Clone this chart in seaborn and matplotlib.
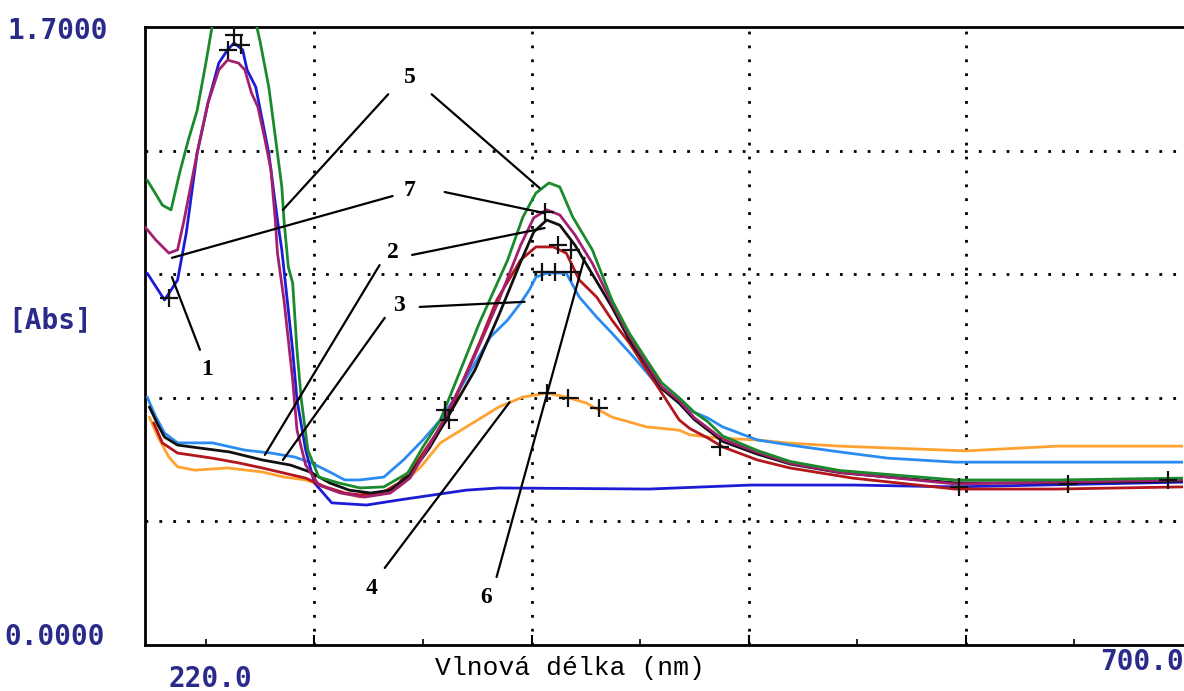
import numpy as np
import pandas as pd
import matplotlib
matplotlib.use("Agg")
import matplotlib.pyplot as plt
import seaborn as sns

# ---------------- data ----------------
wl1 = [223, 231, 237, 241, 246, 251, 256, 260, 263, 267, 269, 273, 276, 279, 281, 283, 285, 290, 292, 296, 300, 308, 324, 339, 370, 385, 454, 501, 548, 595, 700]
ab1 = [1.023, 0.949, 1.004, 1.133, 1.353, 1.491, 1.601, 1.637, 1.656, 1.637, 1.582, 1.535, 1.444, 1.353, 1.26, 1.169, 1.087, 0.81, 0.674, 0.536, 0.446, 0.391, 0.385, 0.399, 0.426, 0.432, 0.429, 0.44, 0.44, 0.435, 0.448]

wl2 = [224, 228, 231, 237, 247, 261, 276, 289, 298, 307, 316, 326, 335, 344, 353, 362, 374, 385, 395, 401, 407, 413, 420, 428, 437, 445, 453, 460, 468, 475, 488, 504, 519, 542, 595, 642, 700]
ab2 = [0.655, 0.605, 0.572, 0.55, 0.542, 0.531, 0.509, 0.495, 0.476, 0.446, 0.426, 0.418, 0.426, 0.468, 0.542, 0.633, 0.757, 0.908, 1.054, 1.136, 1.169, 1.155, 1.10, 1.02, 0.93, 0.84, 0.77, 0.705, 0.665, 0.62, 0.56, 0.525, 0.498, 0.474, 0.446, 0.446, 0.451]

wl3 = [223, 227, 231, 237, 253, 268, 280, 291, 299, 308, 314, 321, 332, 341, 350, 358, 364, 373, 381, 389, 395, 399, 402, 407, 416, 422, 430, 437, 447, 456, 468, 473, 481, 488, 504, 519, 542, 564, 595, 658, 700]
ab3 = [0.682, 0.627, 0.583, 0.556, 0.556, 0.536, 0.528, 0.517, 0.50, 0.473, 0.454, 0.454, 0.462, 0.509, 0.564, 0.619, 0.674, 0.765, 0.847, 0.894, 0.941, 0.977, 1.012, 1.023, 1.023, 0.957, 0.902, 0.858, 0.792, 0.729, 0.67, 0.645, 0.625, 0.60, 0.564, 0.55, 0.531, 0.514, 0.503, 0.503, 0.503]

wl4 = [224, 228, 233, 237, 245, 260, 276, 286, 296, 309, 321, 332, 339, 349, 358, 370, 385, 396, 407, 416, 425, 437, 453, 468, 473, 486, 504, 517, 542, 600, 642, 700]
ab4 = [0.627, 0.572, 0.517, 0.49, 0.481, 0.487, 0.476, 0.462, 0.454, 0.426, 0.407, 0.418, 0.435, 0.49, 0.556, 0.60, 0.655, 0.682, 0.693, 0.682, 0.666, 0.627, 0.60, 0.591, 0.578, 0.569, 0.564, 0.556, 0.547, 0.534, 0.547, 0.547]

wl5 = [223, 227, 230, 234, 238, 242, 246, 250, 254, 258, 263, 268, 272, 275, 279, 281, 283, 285, 286, 288, 290, 292, 294, 297, 302, 311, 321, 332, 343, 350, 358, 366, 376, 389, 396, 402, 408, 413, 419, 428, 437, 445, 453, 460, 468, 475, 481, 488, 504, 519, 542, 595, 642, 700]
ab5 = [1.279, 1.24, 1.21, 1.197, 1.30, 1.39, 1.47, 1.60, 1.74, 1.80, 1.82, 1.80, 1.74, 1.66, 1.535, 1.444, 1.353, 1.26, 1.169, 1.04, 0.996, 0.81, 0.674, 0.536, 0.462, 0.446, 0.432, 0.435, 0.473, 0.545, 0.619, 0.737, 0.886, 1.059, 1.177, 1.243, 1.271, 1.26, 1.177, 1.087, 0.949, 0.858, 0.784, 0.721, 0.68, 0.64, 0.615, 0.575, 0.535, 0.505, 0.48, 0.454, 0.454, 0.459]

wl6 = [226, 230, 237, 253, 265, 276, 286, 296, 305, 314, 321, 332, 339, 347, 355, 361, 368, 376, 384, 395, 402, 410, 416, 422, 430, 437, 445, 453, 460, 468, 473, 481, 488, 504, 519, 548, 595, 642, 700]
ab6 = [0.611, 0.556, 0.528, 0.514, 0.501, 0.487, 0.473, 0.459, 0.435, 0.418, 0.413, 0.421, 0.446, 0.501, 0.572, 0.619, 0.721, 0.831, 0.949, 1.059, 1.095, 1.095, 1.078, 1.004, 0.957, 0.894, 0.831, 0.757, 0.693, 0.619, 0.595, 0.57, 0.545, 0.509, 0.487, 0.459, 0.429, 0.429, 0.435]

wl7 = [222, 227, 233, 237, 240, 246, 251, 256, 260, 265, 268, 271, 274, 277, 280, 282, 283, 286, 290, 292, 296, 302, 312, 323, 335, 344, 353, 360, 372, 385, 395, 401, 407, 413, 420, 428, 437, 445, 453, 460, 468, 475, 488, 504, 519, 542, 595, 642, 700]
ab7 = [1.15, 1.114, 1.078, 1.087, 1.169, 1.353, 1.491, 1.582, 1.609, 1.601, 1.582, 1.519, 1.48, 1.397, 1.307, 1.169, 1.078, 0.949, 0.729, 0.591, 0.495, 0.44, 0.418, 0.407, 0.418, 0.459, 0.55, 0.624, 0.77, 0.949, 1.10, 1.175, 1.197, 1.183, 1.128, 1.05, 0.94, 0.85, 0.775, 0.71, 0.672, 0.625, 0.566, 0.53, 0.50, 0.475, 0.443, 0.448, 0.454]

# cursor '+' marks seen on the traces
mark_wl = [260, 263, 266, 233, 360, 362, 406, 412, 418, 405, 411, 418, 407, 417, 431, 487, 597, 647, 693]
mark_ab = [1.637, 1.678, 1.65, 0.955, 0.646, 0.619, 1.191, 1.10, 1.087, 1.026, 1.026, 1.026, 0.693, 0.68, 0.652, 0.545, 0.435, 0.443, 0.454]

curve_ids = ["1", "2", "3", "4", "5", "6", "7"]
curve_colors = ["#1c1cd6", "#111111", "#2a8cf0", "#ffa232", "#1b8a2c", "#b3161b", "#a3206e"]

# label number, text position, leader segments (annotation geometry)
labels = [
    ("5", (344, 1.56), [(354, 1.515, 403.7, 1.257), (334, 1.515, 285.5, 1.197)]),
    ("7", (344, 1.25), [(336, 1.235, 234.4, 1.065), (360, 1.246, 406, 1.188)]),
    ("2", (336, 1.08), [(345, 1.073, 406, 1.147), (330, 1.045, 277.2, 0.523)]),
    ("3", (339, 0.935), [(348.5, 0.93, 396.8, 0.944), (332.4, 0.90, 285.5, 0.509)]),
    ("1", (250.5, 0.757), [(247.3, 0.812, 234.4, 1.012)]),
    ("4", (326.4, 0.155), [(332.4, 0.212, 389.9, 0.668)]),
    ("6", (379.3, 0.13), [(383.9, 0.187, 424.4, 1.065)]),
]

# ---------------- plotting ----------------
sns.set_theme(style="white")
plt.rcParams["font.family"] = ["DejaVu Sans"]

W, H = 1184, 691
fig = plt.figure(figsize=(W / 100, H / 100), dpi=100)
fig.patch.set_facecolor("white")
ax = fig.add_axes([145 / W, 46 / H, 1038 / W, 618 / H])
ax.set_facecolor("white")

wls = [wl1, wl2, wl3, wl4, wl5, wl6, wl7]
abs_ = [ab1, ab2, ab3, ab4, ab5, ab6, ab7]
frames = []
for cid, w, a in zip(curve_ids, wls, abs_):
    frames.append(pd.DataFrame({"wl": w, "A": a, "curve": cid}))
df = pd.concat(frames, ignore_index=True)

order = ["4", "3", "1", "6", "2", "7", "5"]
for cid in order:
    i = curve_ids.index(cid)
    sub = df[df.curve == cid]
    sns.lineplot(data=sub, x="wl", y="A", ax=ax, color=curve_colors[i],
                 lw=2.0, estimator=None, sort=False, legend=False, zorder=3)

ax.scatter(mark_wl, mark_ab, marker="+", s=160, color="#111111", lw=1.6, zorder=5)

ax.set_xlim(222, 700)
ax.set_ylim(0, 1.7)
ax.set_xticks([300, 400, 500, 600])
ax.set_xticks([250, 350, 450, 550, 650], minor=True)
ax.set_yticks([0.34, 0.68, 1.02, 1.36])
ax.set_xticklabels([])
ax.set_yticklabels([])
ax.tick_params(axis="x", which="major", direction="in", length=7, width=1.5, color="black", bottom=True)
ax.tick_params(axis="x", which="minor", direction="in", length=4, width=1.2, color="black", bottom=True)
ax.tick_params(axis="y", length=0)
ax.set_xlabel("")
ax.set_ylabel("")
ax.grid(True, which="major", color="black", linestyle=(0, (1, 4)), lw=2.0)
for side in ["left", "bottom", "top"]:
    ax.spines[side].set_visible(True)
    ax.spines[side].set_color("black")
    ax.spines[side].set_linewidth(2.0)
ax.spines["right"].set_visible(False)

# annotations
for num, (tx, ty), segs in labels:
    ax.text(tx, ty, num, fontsize=17, fontweight="bold", family=["Liberation Serif", "DejaVu Serif"],
            ha="center", va="center", color="black", zorder=6)
    for (x0, y0, x1, y1) in segs:
        ax.plot([x0, x1], [y0, y1], color="black", lw=1.6, zorder=6, clip_on=False)

# axis texts
navy = "#2a2a8a"
mono = ["DejaVu Sans Mono"]
def ftxt(x, y, s, **kw):
    fig.text(x / W, 1 - y / H, s, **kw)

ftxt(8, 31, "1.7000", fontsize=20, fontweight="bold", family=mono, color=navy, va="center", ha="left")
ftxt(8, 320, "[Abs]", fontsize=20, fontweight="bold", family=mono, color=navy, va="center", ha="left")
ftxt(4, 637, "0.0000", fontsize=20, fontweight="bold", family=mono, color=navy, va="center", ha="left")
ftxt(210, 679, "220.0", fontsize=20, fontweight="bold", family=mono, color=navy, va="center", ha="center")
ftxt(1184, 662, "700.0", fontsize=20, fontweight="bold", family=mono, color=navy, va="center", ha="right")
ftxt(435, 668, "Vlnová délka (nm)", fontsize=19, family=["Liberation Mono", "DejaVu Sans Mono"],
     color="black", va="center", ha="left")

fig.savefig("out.png", dpi=100, facecolor="white")
